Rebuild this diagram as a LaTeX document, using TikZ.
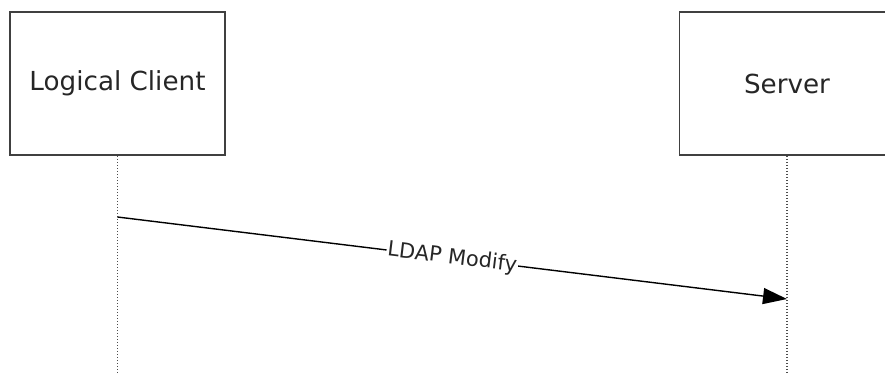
\documentclass[tikz,border=0pt]{standalone}
\usepackage{fontspec}
\setmainfont{DejaVu Sans}
\usetikzlibrary{arrows.meta}
\begin{document}
\begin{tikzpicture}[x=1bp,y=-1bp,
 actor/.style={draw=black!75, line width=1.8bp, minimum width=215bp, minimum height=143bp, inner sep=0pt, font=\fontsize{26.3}{30}\selectfont, text=black!85},
 life/.style={draw=black!70, line width=1.1bp, dash pattern=on 1.5bp off 1.5bp},
 msg/.style={draw=black, line width=1.4bp, -{Triangle[length=24bp,width=16bp]}},
 lbl/.style={fill=white, inner sep=1bp, font=\fontsize{21}{25}\selectfont, text=black!85, sloped}]
\useasboundingbox (0,0) rectangle (885,373);
\clip (0,0) rectangle (885,373);
\node[actor] (client) at (117.5,83.5) {Logical Client};
\node[actor] (server) at (787,83.5) {Server};
\coordinate (cend) at (117.5,373);
\coordinate (send) at (787,373);
\draw[life] (client.south) -- (cend);
\draw[life] (server.south) -- (send);
\coordinate (m1) at (117.5,217);
\coordinate (m2) at (787,299);
\draw[msg] (m1) -- node[lbl] {LDAP Modify} (m2);
\end{tikzpicture}
\end{document}
